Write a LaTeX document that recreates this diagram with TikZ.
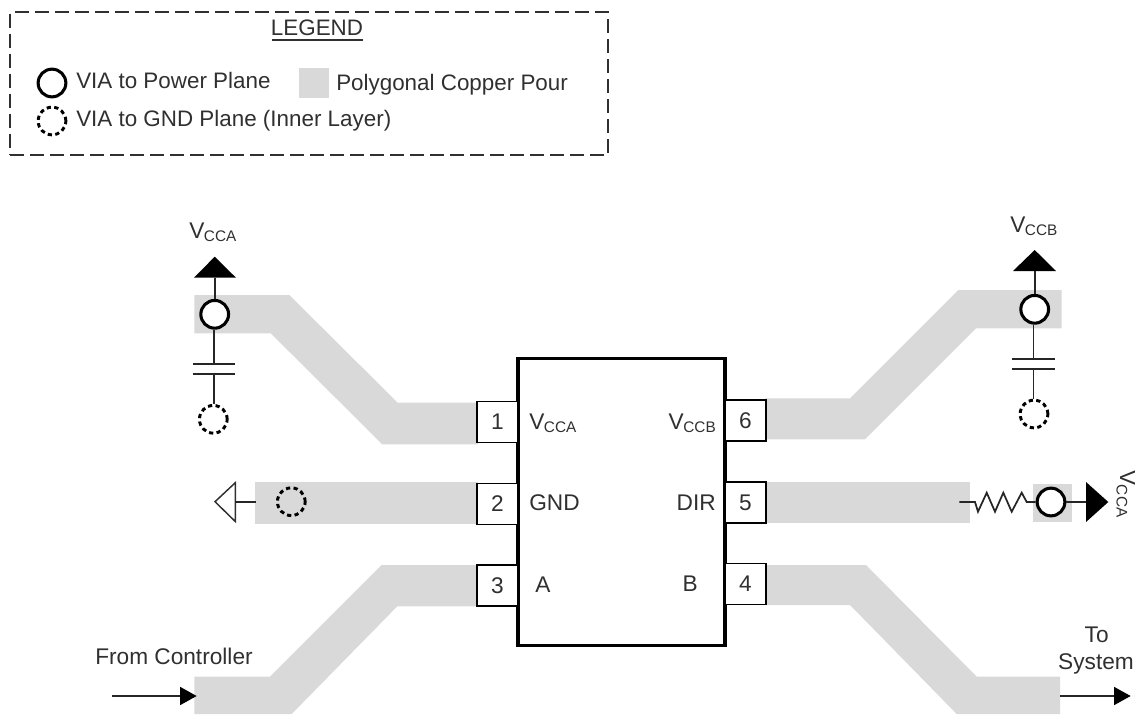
\documentclass[tikz,border=0pt]{standalone}
\usepackage{fontspec}
\setmainfont{Liberation Sans}
\usetikzlibrary{arrows.meta}
\definecolor{pour}{HTML}{D9D9D9}
\definecolor{ink}{HTML}{303030}
\newcommand{\Vsub}[1]{V\kern-0.02em\raisebox{-0.28ex}{\fontsize{11.5pt}{12pt}\selectfont #1}}
\tikzset{
  x=0.75pt,y=-0.75pt,
  txt/.style={inner sep=0,anchor=base west,text=ink,font=\fontsize{17pt}{20pt}\selectfont},
  txtc/.style={inner sep=0,anchor=base,text=ink,font=\fontsize{17pt}{20pt}\selectfont},
  legendtxt/.style={txt,font=\fontsize{16.8pt}{20pt}\selectfont},
  pourfill/.style={fill=pour,draw=none},
  powervia/.style={circle,draw=black,line width=2.3pt,fill=white,minimum size=20.8pt,inner sep=0},
  gndvia/.style={circle,draw=black,line width=2.2pt,dash pattern=on 3.2pt off 2.5pt,minimum size=20.8pt,inner sep=0},
  pinbox/.style={draw=black,line width=1.2pt,fill=white,minimum width=30.75pt,minimum height=30.75pt,inner sep=0,text=ink,font=\fontsize{17pt}{20pt}\selectfont},
  chipbox/.style={draw=black,line width=2.3pt,fill=white,minimum width=155.25pt,minimum height=215.25pt,inner sep=0},
  wire/.style={draw=black!85,line width=1.3pt},
  sigarrow/.style={wire,-{Triangle[length=12.5pt,width=13.5pt,black]}},
}
\begin{document}
\begin{tikzpicture}
\useasboundingbox (0,0) rectangle (1135,714);
% legend
\node[draw=ink,line width=1.2pt,dash pattern=on 10.5pt off 4.5pt,minimum width=448.5pt,minimum height=107pt,inner sep=0] (legend) at (309,83.5) {};
\node[legendtxt,anchor=base] (legtitle) at (317,35) {LEGEND};
\draw[ink,line width=1.4pt] (272,40) -- (363,40);
\node[powervia] (lv1) at (52,83) {};
\node[legendtxt] (lt1) at (76,88) {VIA to Power Plane};
\node[fill=pour,minimum width=22.5pt,minimum height=22.5pt,inner sep=0] (lsq) at (314,83) {};
\node[legendtxt] (lt2) at (336,90) {Polygonal Copper Pour};
\node[gndvia] (lv2) at (52,121) {};
\node[legendtxt] (lt3) at (76,126) {VIA to GND Plane (Inner Layer)};
% pours
\fill[pour] (194.3,295) -- (289.3,295) -- (397.7,402.7) -- (478,402.7) -- (478,444.3) -- (382.3,444.3) -- (270.7,333.3) -- (194.3,333.3) -- cycle;
\fill[pour] (255.3,482) rectangle (478,524);
\fill[pour] (478,565) -- (381.7,565) -- (270,676.7) -- (194.3,676.7) -- (194.3,714) -- (291.7,714) -- (397.3,606.3) -- (478,606.3) -- cycle;
\fill[pour] (765,398.3) -- (850,398.3) -- (958.3,290) -- (1061.7,290) -- (1061.7,328.3) -- (976,328.3) -- (865,439.3) -- (765,439.3) -- cycle;
\fill[pour] (765,481.7) rectangle (970,523);
\fill[pour] (1032.7,484.3) rectangle (1071.7,522);
\fill[pour] (767,565) -- (866,565) -- (976.7,676.7) -- (1060,676.7) -- (1060,714) -- (956.7,714) -- (850,605) -- (767,605) -- cycle;
% chip and pins
\node[chipbox] (chip) at (621.5,502) {};
\node[pinbox] (p1) at (497.5,421.8) {1};
\node[pinbox] (p2) at (497.5,504) {2};
\node[pinbox] (p3) at (497.5,585.6) {3};
\node[pinbox] (p6) at (745.5,420.3) {6};
\node[pinbox] (p5) at (745.5,502.5) {5};
\node[pinbox] (p4) at (745.5,583.8) {4};
\node[txt] (n1) at (529,429) {\Vsub{CCA}};
\node[txt] (n2) at (529,510) {GND};
\node[txt] (n3) at (535,592) {A};
\node[txt,anchor=base east] (n6) at (716,429) {\Vsub{CCB}};
\node[txt,anchor=base east] (n5) at (716,510) {DIR};
\node[txt,anchor=base east] (n4) at (698,591) {B};
% VCCA top left
\node[txt] (vala) at (189,238) {\Vsub{CCA}};
\fill[black] (214.7,256.7) -- (236,277.7) -- (194,277.7) -- cycle;
\coordinate (tria) at (214.7,277.7);
\node[powervia] (via1) at (214.7,314.3) {};
\coordinate (capa1) at (214,364);
\coordinate (capa2) at (214,374);
\node[gndvia] (gv1) at (213.3,419.3) {};
\draw[wire] (tria) -- (via1);
\draw[wire] (via1.south -| capa1) -- (capa1);
\draw[wire] (capa2) -- (gv1.north -| capa2);
\draw[wire] ([xshift=-16pt]capa1) -- ([xshift=16pt]capa1);
\draw[wire] ([xshift=-16pt]capa2) -- ([xshift=16pt]capa2);
% VCCB top right
\node[txt] (valb) at (1010,232) {\Vsub{CCB}};
\fill[black] (1034.7,250) -- (1056,271) -- (1013,271) -- cycle;
\coordinate (trib) at (1034.7,271);
\node[powervia] (via2) at (1034.7,309.3) {};
\coordinate (capb1) at (1033.5,359);
\coordinate (capb2) at (1033.5,369.3);
\node[gndvia] (gv2) at (1034,414) {};
\draw[wire] (trib) -- (via2);
\draw[wire] (via2.south -| capb1) -- (capb1);
\draw[wire] (capb2) -- (gv2.north -| capb2);
\draw[wire] ([xshift=-16pt]capb1) -- ([xshift=16pt]capb1);
\draw[wire] ([xshift=-16pt]capb2) -- ([xshift=16pt]capb2);
% ground
\node[gndvia] (gv3) at (291.3,501.7) {};
\coordinate (gndbase) at (235.3,501.7);
\coordinate (gndend) at (256,501.7);
\draw[line width=1.1pt,draw=ink] (215,501.7) -- (235.3,482.7) -- (235.3,521.5) -- cycle;
\draw[wire] (gndbase) -- (gndend);
% DIR resistor
\coordinate (rs) at (959.3,502);
\node[powervia] (via3) at (1051,502) {};
\draw[wire] (rs) -- (975,502) -- (978,511.7) -- (986.7,492.7) -- (995,511.7) -- (1003.3,492.7) -- (1011.7,511.7) -- (1021.7,492.7) -- (1026.7,502) -- (via3);
\fill[black] (1108.3,502) -- (1086,482) -- (1086,522) -- cycle;
\coordinate (trid) at (1086,502);
\draw[wire] (via3) -- (trid);
\node[txt,rotate=-90] (vald) at (1120,470) {\Vsub{CCA}};
% signal arrows
\coordinate (fa) at (112.3,696);
\coordinate (fb) at (196.7,696);
\draw[sigarrow] (fa) -- (fb);
\node[txt] (from) at (95,664) {From Controller};
\coordinate (ta) at (1060,696);
\coordinate (tb) at (1130.7,696);
\draw[sigarrow] (ta) -- (tb);
\node[txtc] (to) at (1096.7,642) {To};
\node[txtc] (sys) at (1096,669) {System};
\end{tikzpicture}
\end{document}
